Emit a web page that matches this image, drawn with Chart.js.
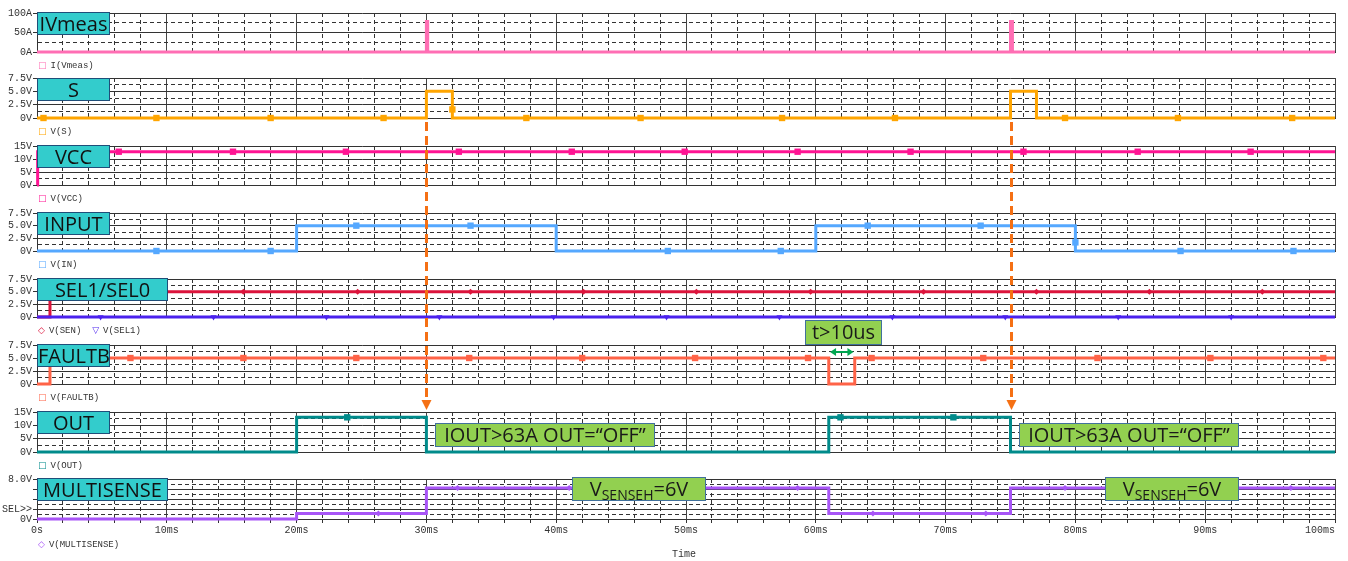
<!DOCTYPE html>
<html>
<head>
<meta charset="utf-8">
<script src="https://cdn.jsdelivr.net/npm/chart.js@4.4.1/dist/chart.umd.min.js"></script>
<style>
  body { margin: 0; background: #fff; }
  #wrap { position: relative; width: 1348px; height: 561px; overflow: hidden; font-family: "Liberation Mono", monospace; }
  canvas { position: absolute; left: 0; }
  .tag { position: absolute; left: 37px; width: 73px; height: 23px; box-sizing: border-box; background: #33cccc;
         border: 1px solid #1f4e79; color: #111; font-family: "Open Sans", sans-serif; font-size: 20px;
         line-height: 21px; text-align: center; }
  .wide { width: 131px; }
  .leg { position: absolute; left: 38px; height: 12px; line-height: 12px; font-size: 9px; color: #333; white-space: pre; }
  .leg b { font-family: "DejaVu Sans", sans-serif; font-weight: normal; font-size: 9px; margin-right: 4px; }
  .note { position: absolute; box-sizing: border-box; background: #92d050; border: 1px solid #41719c; color: #1a1a1a;
          font-family: "Open Sans", sans-serif; font-size: 20px; height: 24px; line-height: 22px; text-align: center; white-space: nowrap; }
  .note sub { font-size: 14px; vertical-align: -4px; line-height: 0; }
  #time { position: absolute; left: 672px; top: 549px; font-size: 10px; color: #333; }
  #ov { pointer-events: none; }
</style>
</head>
<body>
<div id="wrap">
  <canvas id="c0"></canvas><canvas id="c1"></canvas><canvas id="c2"></canvas><canvas id="c3"></canvas>
  <canvas id="c4"></canvas><canvas id="c5"></canvas><canvas id="c6"></canvas><canvas id="c7"></canvas>
  <canvas id="ov" width="1348" height="561" style="top:0"></canvas>

  <div class="tag" style="top:12px">IVmeas</div>
  <div class="tag" style="top:78px">S</div>
  <div class="tag" style="top:145px">VCC</div>
  <div class="tag" style="top:212px">INPUT</div>
  <div class="tag wide" style="top:278px">SEL1/SEL0</div>
  <div class="tag" style="top:344px">FAULTB</div>
  <div class="tag" style="top:411px">OUT</div>
  <div class="tag wide" style="top:478px">MULTISENSE</div>

  <div class="leg" style="top:59px"><b style="color:#ff6eb4">□</b>I(Vmeas)</div>
  <div class="leg" style="top:125px"><b style="color:#ffa500">□</b>V(S)</div>
  <div class="leg" style="top:192px"><b style="color:#ff1493">□</b>V(VCC)</div>
  <div class="leg" style="top:258px"><b style="color:#55a8ff">□</b>V(IN)</div>
  <div class="leg" style="top:324px"><b style="color:#dc143c">◇</b>V(SEN)  <b style="color:#4b22ee">▽</b>V(SEL1)</div>
  <div class="leg" style="top:391px"><b style="color:#ff6347">□</b>V(FAULTB)</div>
  <div class="leg" style="top:459px"><b style="color:#008b8b">□</b>V(OUT)</div>
  <div class="leg" style="top:538px"><b style="color:#a855f7">◇</b>V(MULTISENSE)</div>
  <div id="time">Time</div>

  <div class="note" style="left:805px;top:320px;width:77px;height:25px">t&gt;10us</div>
  <div class="note" style="left:435px;top:423px;width:220px">IOUT&gt;63A OUT=“OFF”</div>
  <div class="note" style="left:1019px;top:423px;width:220px">IOUT&gt;63A OUT=“OFF”</div>
  <div class="note" style="left:572px;top:477px;width:134px">V<sub>SENSEH</sub>=6V</div>
  <div class="note" style="left:1105px;top:477px;width:134px">V<sub>SENSEH</sub>=6V</div>
</div>

<script>
// time axis (ms)
const xTickVals = [0, 10, 20, 30, 40, 50, 60, 70, 80, 90, 100];
const xTickText = ["0s", "10ms", "20ms", "30ms", "40ms", "50ms", "60ms", "70ms", "80ms", "90ms", "100ms"];

// step traces: change times (ms) and the level held from that time on
const ivT = [0, 30, 30.1, 75, 75.15, 100];
const ivV = [0, 78, 0, 78, 0, 0];
const sT = [0, 30, 32, 75, 77, 100];
const sV = [0, 5, 0, 5, 0, 0];
const vccT = [0, 0.05, 100];
const vccV = [0, 12.8, 12.8];
const inT = [0, 20, 40, 60, 80, 100];
const inV = [0, 5, 0, 5, 0, 0];
const senT = [0, 1, 100];
const senV = [0, 5, 5];
const sel1T = [0, 100];
const sel1V = [0, 0];
const fltT = [0, 1, 61, 63, 100];
const fltV = [0, 5, 0, 5, 5];
const outT = [0, 20, 30, 61, 75, 100];
const outV = [0, 13, 0, 13, 0, 0];
const msT = [0, 20, 30, 61, 75, 100];
const msV = [0, 1.1, 6.2, 1.1, 6.2, 6.2];

// trace markers
const sMkT = [0.5, 9.2, 18.0, 26.7, 32.0, 37.7, 46.5, 57.4, 66.1, 79.2, 87.9, 96.7];
const sMkV = [0, 0, 0, 0, 1.6, 0, 0, 0, 0, 0, 0, 0];
const vccMkT = [6.3, 15.1, 23.8, 32.5, 41.2, 49.9, 58.6, 67.3, 76.0, 84.8, 93.5];
const vccMkV = [12.8, 12.8, 12.8, 12.8, 12.8, 12.8, 12.8, 12.8, 12.8, 12.8, 12.8];
const inMkT = [9.2, 18.0, 24.6, 33.4, 48.6, 57.3, 64.0, 72.7, 80.0, 88.1, 96.8];
const inMkV = [0, 0, 5, 5, 0, 0, 5, 5, 1.7, 0, 0];
const senMkT = [7.2, 15.9, 24.7, 33.4, 42.1, 50.8, 59.6, 68.3, 77.0, 85.7, 94.4];
const senMkV = [5, 5, 5, 5, 5, 5, 5, 5, 5, 5, 5];
const sel1MkT = [4.9, 13.6, 22.3, 31.0, 39.8, 48.5, 57.2, 65.9, 74.6, 83.3, 92.0];
const sel1MkV = [0, 0, 0, 0, 0, 0, 0, 0, 0, 0, 0];
const fltMkT = [7.2, 15.9, 24.6, 33.3, 42.0, 50.7, 59.4, 64.3, 72.9, 81.7, 90.4, 99.1];
const fltMkV = [5, 5, 5, 5, 5, 5, 5, 5, 5, 5, 5, 5];
const outMkT = [23.9, 61.9, 70.6];
const outMkV = [13, 13, 13];
const msMkT = [26.3, 32.4, 41.0, 58.6, 64.4, 73.1, 79.2, 96.6];
const msMkV = [1.1, 6.2, 6.2, 6.2, 1.1, 1.1, 6.2, 6.2];

// y axis ticks per panel
const ampMajor = [0, 50, 100], ampMinor = [25, 75];
const ampText = { 0: "0A", 50: "50A", 100: "100A" };
const v75Major = [0, 2.5, 5, 7.5], v75Minor = [1.25, 3.75, 6.25];
const v75Text = { 0: "0V", 2.5: "2.5V", 5: "5.0V", 7.5: "7.5V" };
const v15Major = [0, 5, 10, 15], v15Minor = [2.5, 7.5, 12.5];
const v15Text = { 0: "0V", 5: "5V", 10: "10V", 15: "15V" };
const v8Major = [0, 2, 4, 6, 8], v8Minor = [1, 3, 5, 7];
const v8Text = { 0: "0V", 2: "SEL>>", 8: "8.0V" };

const pts = (t, v) => t.map((x, i) => ({ x: x, y: v[i] }));
const trace = (t, v, color) => ({ data: pts(t, v), borderColor: color, borderWidth: 3, pointRadius: 0,
  stepped: true, clip: 6, order: 2 });
const marks = (t, v, color, style, r, rot) => ({ data: pts(t, v), showLine: false, pointStyle: style, pointRadius: r,
  pointRotation: rot || 0, backgroundColor: color, borderColor: color, borderWidth: 0, clip: 6, order: 1 });

const panels = [
  { top: 12, bot: 53, max: 100, major: ampMajor, minor: ampMinor, text: ampText,
    sets: [trace(ivT, ivV, "#ff6eb4")] },
  { top: 77, bot: 119, max: 7.5, major: v75Major, minor: v75Minor, text: v75Text,
    sets: [trace(sT, sV, "#ffa500"), marks(sMkT, sMkV, "#ffa500", "rect", 4.5)] },
  { top: 145, bot: 186, max: 15, major: v15Major, minor: v15Minor, text: v15Text,
    sets: [trace(vccT, vccV, "#ff1493"), marks(vccMkT, vccMkV, "#ff1493", "rect", 4.5)] },
  { top: 212, bot: 252, max: 7.5, major: v75Major, minor: v75Minor, text: v75Text,
    sets: [trace(inT, inV, "#55a8ff"), marks(inMkT, inMkV, "#55a8ff", "rect", 4.5)] },
  { top: 278, bot: 318, max: 7.5, major: v75Major, minor: v75Minor, text: v75Text,
    sets: [trace(sel1T, sel1V, "#4b22ee"), trace(senT, senV, "#dc143c"),
           marks(senMkT, senMkV, "#dc143c", "rectRot", 3), marks(sel1MkT, sel1MkV, "#4b22ee", "triangle", 3.5, 180)] },
  { top: 344, bot: 385, max: 7.5, major: v75Major, minor: v75Minor, text: v75Text,
    sets: [trace(fltT, fltV, "#ff6347"), marks(fltMkT, fltMkV, "#ff6347", "rect", 4.5)] },
  { top: 411, bot: 453, max: 15, major: v15Major, minor: v15Minor, text: v15Text,
    sets: [trace(outT, outV, "#008b8b"), marks(outMkT, outMkV, "#008b8b", "rect", 4.5)] },
  { top: 478, bot: 519, max: 8, major: v8Major, minor: v8Minor, text: v8Text,
    sets: [trace(msT, msV, "#a855f7"), marks(msMkT, msMkV, "#a855f7", "rectRot", 3)] }
];

const xGrid = [];
for (let v = 0; v <= 100; v += 2) xGrid.push(v);
const tickFont = { family: "Liberation Mono", size: 10 };

const charts = panels.map((p, i) => {
  const last = i === panels.length - 1;
  const cv = document.getElementById("c" + i);
  const h = p.bot - p.top;
  cv.width = 1348;
  cv.height = last ? h + 6 + 22 : h + 12;
  cv.style.top = (p.top - 6) + "px";
  const yTicks = p.major.concat(p.minor).sort((a, b) => a - b);
  return new Chart(cv, {
    type: "line",
    data: { datasets: p.sets },
    options: {
      responsive: false, animation: false, events: [],
      layout: { padding: { top: 6, bottom: last ? 0 : 6, left: 0, right: 13 } },
      plugins: { legend: { display: false }, tooltip: { enabled: false } },
      scales: {
        x: {
          type: "linear", min: 0, max: 100,
          afterBuildTicks: s => { s.ticks = xGrid.map(v => ({ value: v })); },
          // fixed axis height, and no extra side room for the end labels
          afterFit: s => { s.height = last ? 22 : 0; s.paddingLeft = 0; s.paddingRight = 0; },
          ticks: {
            display: last, autoSkip: false, maxRotation: 0, padding: 1, color: "#333", font: tickFont,
            // trailing blanks push the last label left so it ends on the 100ms line
            callback: v => { const k = xTickVals.indexOf(v); return k < 0 ? "" : (v === 100 ? xTickText[k] + "     " : xTickText[k]); }
          },
          grid: { color: c => (c.tick && c.tick.value % 10 === 0) ? "#444" : "#333", lineWidth: 1,
                  drawTicks: last, tickLength: 4, tickColor: "#333" },
          border: { display: true, color: "#333", dash: c => (c.tick && c.tick.value % 10 !== 0) ? [4, 3] : [] }
        },
        y: {
          type: "linear", min: 0, max: p.max,
          afterBuildTicks: s => { s.ticks = yTicks.map(v => ({ value: v })); },
          afterFit: s => { s.width = 37; },
          ticks: { autoSkip: false, padding: 1, color: "#333", font: tickFont,
                   callback: v => (p.text[v] !== undefined ? p.text[v] : "") },
          grid: { color: "#333", lineWidth: 1, drawTicks: true, tickLength: 4,
                  tickColor: c => (c.tick && p.major.includes(c.tick.value)) ? "#333" : "rgba(0,0,0,0)" },
          border: { display: true, color: "#333", dash: c => (c.tick && !p.major.includes(c.tick.value)) ? [4, 3] : [] }
        }
      }
    }
  });
});

// annotation arrows
const ov = document.getElementById("ov").getContext("2d");
const xs = charts[7].scales.x;
function downArrow(t) {
  const x = Math.round(xs.getPixelForValue(t)) + 0.5;
  const y1 = panels[1].top - 6 + charts[1].scales.y.getPixelForValue(0) + 4;
  const y2 = panels[6].top - 1;
  ov.save();
  ov.strokeStyle = "#f57014"; ov.fillStyle = "#f57014"; ov.lineWidth = 3; ov.setLineDash([9, 5]);
  ov.beginPath(); ov.moveTo(x, y1); ov.lineTo(x, y2 - 8); ov.stroke();
  ov.setLineDash([]);
  ov.beginPath(); ov.moveTo(x - 5, y2 - 10); ov.lineTo(x + 5, y2 - 10); ov.lineTo(x, y2); ov.closePath(); ov.fill();
  ov.restore();
}
downArrow(30);
downArrow(75);

function sideArrow(t1, t2, y) {
  const a = xs.getPixelForValue(t1), b = xs.getPixelForValue(t2);
  ov.save();
  ov.strokeStyle = "#00a650"; ov.fillStyle = "#00a650"; ov.lineWidth = 2;
  ov.beginPath(); ov.moveTo(a + 4, y); ov.lineTo(b - 4, y); ov.stroke();
  ov.beginPath(); ov.moveTo(a, y); ov.lineTo(a + 6, y - 4); ov.lineTo(a + 6, y + 4); ov.closePath(); ov.fill();
  ov.beginPath(); ov.moveTo(b, y); ov.lineTo(b - 6, y - 4); ov.lineTo(b - 6, y + 4); ov.closePath(); ov.fill();
  ov.restore();
}
sideArrow(61.1, 62.9, 352);
</script>
</body>
</html>
